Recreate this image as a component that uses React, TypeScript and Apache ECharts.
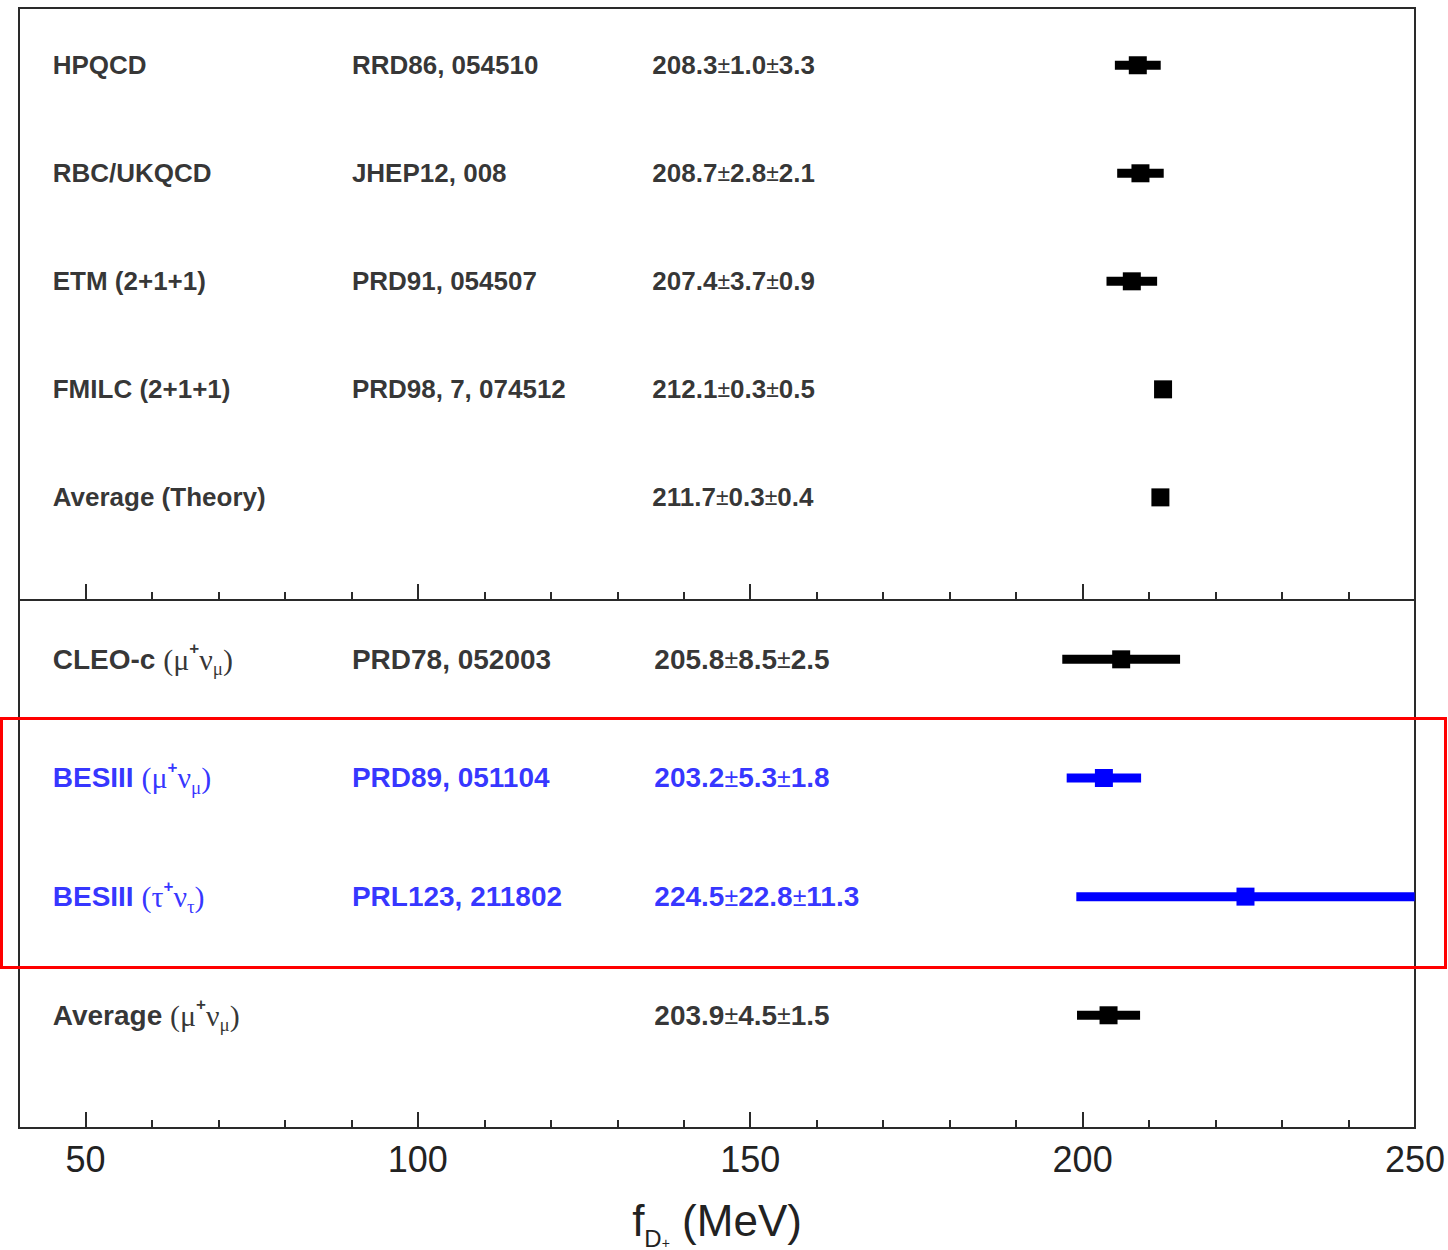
import React, { useEffect, useRef } from 'react';
import * as echarts from 'echarts';

// ---------- data ----------
const theoryNames = ['HPQCD', 'RBC/UKQCD', 'ETM (2+1+1)', 'FMILC (2+1+1)', 'Average (Theory)'];
const theoryRefs = ['RRD86, 054510', 'JHEP12, 008', 'PRD91, 054507', 'PRD98, 7, 074512', ''];
const theoryCentral = [208.3, 208.7, 207.4, 212.1, 211.7];
const theoryStat = [1.0, 2.8, 3.7, 0.3, 0.3];
const theorySyst = [3.3, 2.1, 0.9, 0.5, 0.4];
const theoryRows = [5, 4, 3, 2, 1];

const expNames = ['CLEO-c', 'BESIII', 'BESIII', 'Average'];
const expLeptons = ['μ', 'μ', 'τ', 'μ'];
const expRefs = ['PRD78, 052003', 'PRD89, 051104', 'PRL123, 211802', ''];
const expCentral = [205.8, 203.2, 224.5, 203.9];
const expStat = [8.5, 5.3, 22.8, 4.5];
const expSyst = [2.5, 1.8, 11.3, 1.5];
const expHighlighted = [false, true, true, false];
const expRows = [4, 3, 2, 1];

const majorTicks = [50, 100, 150, 200, 250];
const minorTicks = [60, 70, 80, 90, 110, 120, 130, 140, 160, 170, 180, 190, 210, 220, 230, 240];

// ---------- styling ----------
const BLACK = '#000000';
const BLUE = '#0000ff';
const AXIS = '#2a2a2a';
const SANS = 'Liberation Sans, Arial, Helvetica, sans-serif';
const SERIF = 'Liberation Serif, DejaVu Serif, serif';
const X_MIN = 40;
const X_MAX = 250;
const COL_NAME = 45;
const COL_REF = 90;
const COL_VAL = 135.2;

const makeRich = (fs: number) => ({
  p: { fontFamily: SERIF, fontWeight: 'normal', fontSize: fs + 2, lineHeight: fs + 10 },
  sup: { fontFamily: SANS, fontWeight: 'bold', fontSize: Math.round(fs * 0.6), verticalAlign: 'top', lineHeight: 25 },
  sub: { fontFamily: SERIF, fontWeight: 'normal', fontSize: Math.round(fs * 0.68), verticalAlign: 'bottom', lineHeight: 13 },
  pm: { fontFamily: SANS, fontWeight: 'normal', fontSize: Math.round(fs * 0.9), lineHeight: fs + 10 },
});

const fmtVal = (c: number, s: number, y: number) =>
  `${c.toFixed(1)}{pm|±}${s.toFixed(1)}{pm|±}${y.toFixed(1)}`;

const expLabel = (name: string, l: string) =>
  `${name} {p|(${l}}{sup|+}{p|ν}{sub|${l}}{p|)}`;

function textSeries(gi: number, col: number, rows: number[], texts: string[], colors: string[], fs: number) {
  const data: any[] = [];
  rows.forEach((r, i) => {
    if (!texts[i]) return;
    data.push({ value: [col, r], label: { formatter: texts[i], color: colors[i] } });
  });
  return {
    type: 'scatter',
    xAxisIndex: gi * 2,
    yAxisIndex: gi,
    symbolSize: 1,
    silent: true,
    itemStyle: { color: 'rgba(0,0,0,0)' },
    label: {
      show: true,
      position: 'right',
      distance: 0,
      fontFamily: SANS,
      fontWeight: 'bold',
      fontSize: fs,
      lineHeight: fs + 10,
      rich: makeRich(fs),
    },
    data,
    z: 5,
  };
}

function errorSeries(gi: number, rows: number[], central: number[], stat: number[], syst: number[], colors: string[]) {
  return {
    type: 'custom',
    xAxisIndex: gi * 2,
    yAxisIndex: gi,
    silent: true,
    encode: { x: 0, y: 2 },
    data: rows.map((r, i) => ({
      value: [central[i], Math.hypot(stat[i], syst[i]), r],
      itemStyle: { color: colors[i] },
    })),
    renderItem: (params: any, api: any) => {
      const c = api.value(0);
      const e = api.value(1);
      const y = api.value(2);
      const p0 = api.coord([c - e, y]);
      const p1 = api.coord([c + e, y]);
      const pc = api.coord([c, y]);
      const cs = params.coordSys;
      const color = api.visual('color');
      const barH = 9;
      const mk = 18;
      const bar = echarts.graphic.clipRectByRect(
        { x: p0[0], y: pc[1] - barH / 2, width: p1[0] - p0[0], height: barH },
        { x: cs.x, y: cs.y, width: cs.width, height: cs.height }
      );
      const children: any[] = [];
      if (bar) children.push({ type: 'rect', shape: bar, style: { fill: color } });
      children.push({
        type: 'rect',
        shape: { x: pc[0] - mk / 2, y: pc[1] - mk / 2, width: mk, height: mk },
        style: { fill: color },
      });
      return { type: 'group', children };
    },
    z: 4,
  };
}

function xAxesFor(gi: number, withLabels: boolean) {
  const major: any = {
    type: 'value',
    gridIndex: gi,
    min: X_MIN,
    max: X_MAX,
    position: 'bottom',
    axisLine: { show: true, onZero: false, lineStyle: { color: AXIS, width: 2 } },
    axisTick: { show: true, inside: true, length: 16, customValues: majorTicks, lineStyle: { color: AXIS, width: 2 } },
    axisLabel: withLabels
      ? { show: true, customValues: majorTicks, fontFamily: SANS, fontSize: 36, color: '#222', margin: 13 }
      : { show: false },
    splitLine: { show: false },
  };
  if (withLabels) {
    major.name = '{f|f}{sub|D}{sup|+}{m| (MeV)}';
    major.nameLocation = 'middle';
    major.nameGap = 62;
    major.nameTextStyle = {
      fontFamily: SANS,
      fontSize: 44,
      color: '#222',
      lineHeight: 60,
      rich: {
        f: { fontFamily: SANS, fontSize: 44, lineHeight: 60 },
        m: { fontFamily: SANS, fontSize: 44, lineHeight: 60 },
        sub: { fontFamily: SANS, fontSize: 24, verticalAlign: 'bottom', lineHeight: 20 },
        sup: { fontFamily: SANS, fontSize: 14, verticalAlign: 'bottom', lineHeight: 44 },
      },
    };
  }
  const minor = {
    type: 'value',
    gridIndex: gi,
    min: X_MIN,
    max: X_MAX,
    position: 'bottom',
    axisLine: { show: false },
    axisTick: { show: true, inside: true, length: 8, customValues: minorTicks, lineStyle: { color: AXIS, width: 2 } },
    axisLabel: { show: false },
    splitLine: { show: false },
  };
  return [major, minor];
}

export default function App() {
  const ref = useRef<HTMLDivElement>(null);
  useEffect(() => {
    if (!ref.current) return;
    const chart = echarts.init(ref.current, null, { renderer: 'svg' });

    const theoryColors = theoryNames.map(() => BLACK);
    const expColors = expHighlighted.map((h) => (h ? BLUE : BLACK));

    const option: any = {
      animation: false,
      backgroundColor: '#ffffff',
      grid: [
        {
          left: 19, right: 33, top: 8, height: 592, show: true, borderColor: AXIS, borderWidth: 2,
          backgroundColor: 'transparent', outerBoundsMode: 'none', containLabel: false,
        },
        {
          left: 19, right: 33, top: 600, height: 528, show: true, borderColor: AXIS, borderWidth: 2,
          backgroundColor: 'transparent', outerBoundsMode: 'none', containLabel: false,
        },
      ],
      xAxis: [...xAxesFor(0, false), ...xAxesFor(1, true)],
      yAxis: [
        { type: 'value', gridIndex: 0, min: 0.05, max: 5.53, show: false },
        { type: 'value', gridIndex: 1, min: 0.05, max: 4.5, show: false },
      ],
      series: [
        errorSeries(0, theoryRows, theoryCentral, theoryStat, theorySyst, theoryColors),
        errorSeries(1, expRows, expCentral, expStat, expSyst, expColors),
        textSeries(0, COL_NAME, theoryRows, theoryNames, theoryColors, 26),
        textSeries(0, COL_REF, theoryRows, theoryRefs, theoryColors, 26),
        textSeries(
          0,
          COL_VAL,
          theoryRows,
          theoryRows.map((_, i) => fmtVal(theoryCentral[i], theoryStat[i], theorySyst[i])),
          theoryColors,
          26
        ),
        textSeries(1, COL_NAME, expRows, expRows.map((_, i) => expLabel(expNames[i], expLeptons[i])), expColors, 28),
        textSeries(1, COL_REF, expRows, expRefs, expColors, 28),
        textSeries(
          1,
          COL_VAL + 0.3,
          expRows,
          expRows.map((_, i) => fmtVal(expCentral[i], expStat[i], expSyst[i])),
          expColors,
          28
        ),
      ],
      graphic: [
        {
          type: 'rect',
          shape: { x: 1.5, y: 718.5, width: 1444, height: 249 },
          style: { fill: 'transparent', stroke: '#ff0000', lineWidth: 3 },
          silent: true,
          z: 100,
        },
      ],
    };
    chart.setOption(option);
    return () => chart.dispose();
  }, []);
  return (
    <div
      ref={ref}
      style={{ position: 'absolute', left: 0, top: 0, width: 1448, height: 1250, background: '#fff' }}
    />
  );
}
